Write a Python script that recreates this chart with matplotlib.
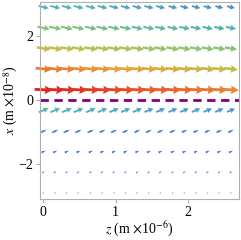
import numpy as np
import matplotlib
matplotlib.use("Agg")
import matplotlib.pyplot as plt
from matplotlib.colors import LinearSegmentedColormap

# grid of the vector field
z_cols = [0.01, 0.17, 0.33, 0.49, 0.66, 0.82, 0.98, 1.14, 1.30,
          1.46, 1.62, 1.79, 1.95, 2.11, 2.27, 2.43, 2.59]
x_rows = [2.90, 2.25, 1.61, 0.97, 0.32, -0.32, -0.97, -1.61, -2.25, -2.90]

# field strength per row, left to right (drives colour and arrow length)
speed = [
    [0.42, 0.41, 0.40, 0.40, 0.39, 0.38, 0.37, 0.36, 0.35, 0.35, 0.34, 0.33, 0.32, 0.32, 0.31, 0.30, 0.30],
    [0.56, 0.55, 0.54, 0.53, 0.52, 0.51, 0.50, 0.49, 0.48, 0.47, 0.46, 0.45, 0.44, 0.43, 0.42, 0.41, 0.40],
    [0.70, 0.69, 0.68, 0.67, 0.66, 0.65, 0.64, 0.63, 0.62, 0.61, 0.60, 0.59, 0.58, 0.57, 0.56, 0.56, 0.55],
    [0.86, 0.85, 0.84, 0.83, 0.82, 0.81, 0.79, 0.78, 0.77, 0.76, 0.75, 0.74, 0.73, 0.72, 0.71, 0.70, 0.69],
    [1.00, 0.99, 0.98, 0.97, 0.96, 0.95, 0.94, 0.93, 0.92, 0.91, 0.90, 0.89, 0.88, 0.87, 0.86, 0.85, 0.84],
    [0.42, 0.41, 0.41, 0.40, 0.39, 0.39, 0.38, 0.37, 0.37, 0.36, 0.35, 0.35, 0.34, 0.34, 0.33, 0.33, 0.32],
    [0.26, 0.26, 0.26, 0.26, 0.26, 0.25, 0.25, 0.25, 0.25, 0.25, 0.25, 0.25, 0.24, 0.24, 0.24, 0.24, 0.24],
    [0.20, 0.20, 0.20, 0.20, 0.20, 0.20, 0.20, 0.20, 0.19, 0.19, 0.19, 0.19, 0.19, 0.19, 0.19, 0.19, 0.19],
    [0.12, 0.12, 0.12, 0.12, 0.12, 0.12, 0.12, 0.12, 0.12, 0.12, 0.12, 0.12, 0.12, 0.12, 0.12, 0.12, 0.12],
    [0.05, 0.05, 0.05, 0.05, 0.05, 0.05, 0.05, 0.05, 0.05, 0.05, 0.05, 0.05, 0.05, 0.05, 0.05, 0.05, 0.05],
]
# arrow tilt per row on screen (degrees)
tilt = [-13, -11, -9, -6, -3, 22, 25, 25, 25, 25]

plt.rcParams['font.family'] = ['Liberation Serif', 'DejaVu Serif']
plt.rcParams['mathtext.fontset'] = 'stix'

rainbow = LinearSegmentedColormap.from_list("rb", [
    (0.00, "#7a2fc8"), (0.20, "#4a6fe0"), (0.40, "#4fb0b8"),
    (0.55, "#86c27a"), (0.68, "#bcc048"), (0.80, "#e8a038"),
    (0.90, "#e8602a"), (1.00, "#dc2420")])

S = np.array(speed)
# arrow length in pixels as a function of strength
L = np.interp(S, [0.0, 0.05, 0.12, 0.2, 0.26, 0.35, 0.45, 0.6, 0.8, 1.0],
              [0.0, 1.8, 2.8, 4.5, 7.0, 9.5, 11.0, 13.0, 15.0, 18.0])

fig = plt.figure(figsize=(2.41, 2.40), dpi=100)
ax = fig.add_axes([40 / 241, 1 - 199 / 240, 199 / 241, 197 / 240])

for i, xr in enumerate(x_rows):
    a = np.deg2rad(tilt[i])
    U = L[i] * np.cos(a)
    V = L[i] * np.sin(a)
    m = S[i].mean()
    w = 1.2 + 1.8 * m
    hw = 3.0 if m > 0.3 else 1.6
    ax.quiver(z_cols, [xr] * len(z_cols), U, V, S[i], cmap=rainbow, clim=(0, 1),
              angles='uv', scale_units='dots', scale=1, pivot='middle',
              units='dots', width=w, headwidth=hw, headlength=2.8,
              headaxislength=2.5, minlength=0.2, clip_on=False)
ax.axhline(0, color='#800080', lw=2, ls=(0, (3, 2)))

ax.set_xlim(-0.04, 2.70)
ax.set_ylim(-3.09, 3.06)
ax.set_xticks([0, 1, 2])
ax.set_yticks([-2, 0, 2])
ax.set_xticklabels(['0', '1', '2'])
ax.set_yticklabels(['\u22122', '0', '2'])
for s in ax.spines.values():
    s.set_color('#b0b0b0')
    s.set_linewidth(0.8)
ax.tick_params(colors='#b0b0b0', labelcolor='black', labelsize=10, length=3, width=0.8, pad=2)

ax.set_xlabel(r'$z$ (m $\times$10$^{-6}$)', fontsize=10, labelpad=1)
ax.set_ylabel(r'$x$ (m $\times$10$^{-8}$)', fontsize=10, labelpad=-1)

fig.savefig("out.png", dpi=100)
